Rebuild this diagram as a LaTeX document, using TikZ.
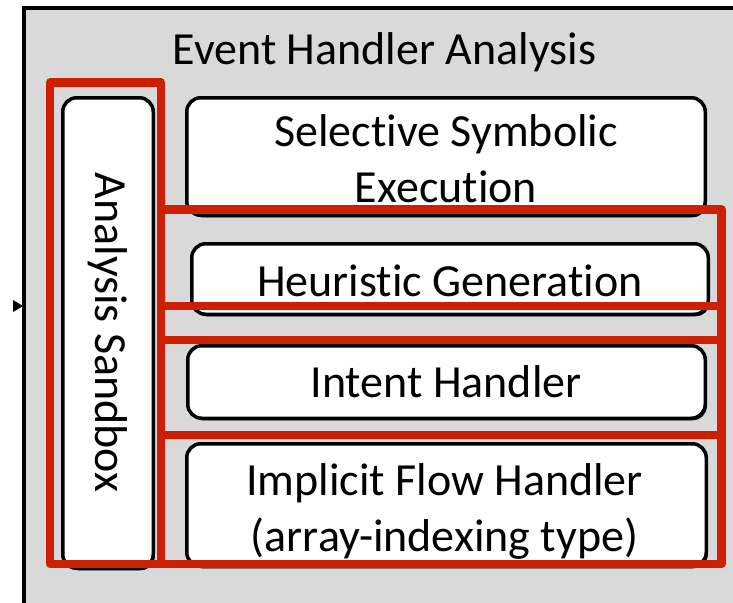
\documentclass[tikz,border=0pt]{standalone}
\usepackage{fontspec}
\setmainfont[Ligatures=NoCommon]{Carlito}
\usetikzlibrary{shadows}
\definecolor{panelgray}{RGB}{217,217,217}
\definecolor{markred}{RGB}{204,32,0}
\begin{document}
\begin{tikzpicture}[x=1pt,y=-1pt,
  module/.style={draw=black, line width=3.5pt, fill=white, rounded corners=14pt,
    inner sep=0pt,
    drop shadow={shadow xshift=1.5pt, shadow yshift=-2pt, fill=black, opacity=1}},
  hl/.style={draw=markred, line width=8.5pt, line join=round},
  caption/.style={font=\fontsize{46}{55}\selectfont, inner sep=0pt},
  modtext/.style={caption, anchor=base}]
\useasboundingbox (0,0) rectangle (733,602);

% outer panel
\fill[panelgray] (24,8) rectangle (745,615);
\draw[line width=3.5pt] (24,615) -- (24,8) -- (745,8);
\fill (13,300) -- (23,306) -- (13,312) -- cycle;

\node[caption, anchor=base] (title) at (384.5,65) {Event Handler Analysis};

% component boxes
\node[module, minimum width=90.5pt, minimum height=470.5pt] (sandbox) at (108,333) {};
\node[module, minimum width=518.5pt, minimum height=117.5pt] (sse) at (446,156.5) {};
\node[module, minimum width=516.5pt, minimum height=70.5pt] (heur) at (450,279) {};
\node[module, minimum width=517.5pt, minimum height=72.5pt] (intent) at (446.5,382) {};
\node[module, minimum width=519.5pt, minimum height=122.5pt] (implicit) at (446.5,505) {};

% component labels
\node[caption, rotate=-90] (sandboxlabel) at (108,332.5) {Analysis Sandbox};
\node[modtext] (sse1) at (446,146) {Selective Symbolic};
\node[modtext] (sse2) at (446,202) {Execution};
\node[modtext] (heurlabel) at (450,296.5) {Heuristic Generation};
\node[modtext] (intentlabel) at (446,397) {Intent Handler};
\node[modtext] (impl1) at (444.5,495) {Implicit Flow Handler};
\node[modtext] (impl2) at (444.5,551) {(array-indexing type)};

% highlighted regions
\draw[hl] (50,82.5) -- (161,82.5) -- (161,209.5) -- (721.5,209.5) -- (721.5,564)
  -- (50,564) -- cycle;
\draw[hl] (161,209.5) -- (161,564);
\draw[hl] (161,306) -- (721.5,306);
\draw[hl] (161,340) -- (721.5,340);
\draw[hl] (161,435) -- (721.5,435);
\end{tikzpicture}
\end{document}
